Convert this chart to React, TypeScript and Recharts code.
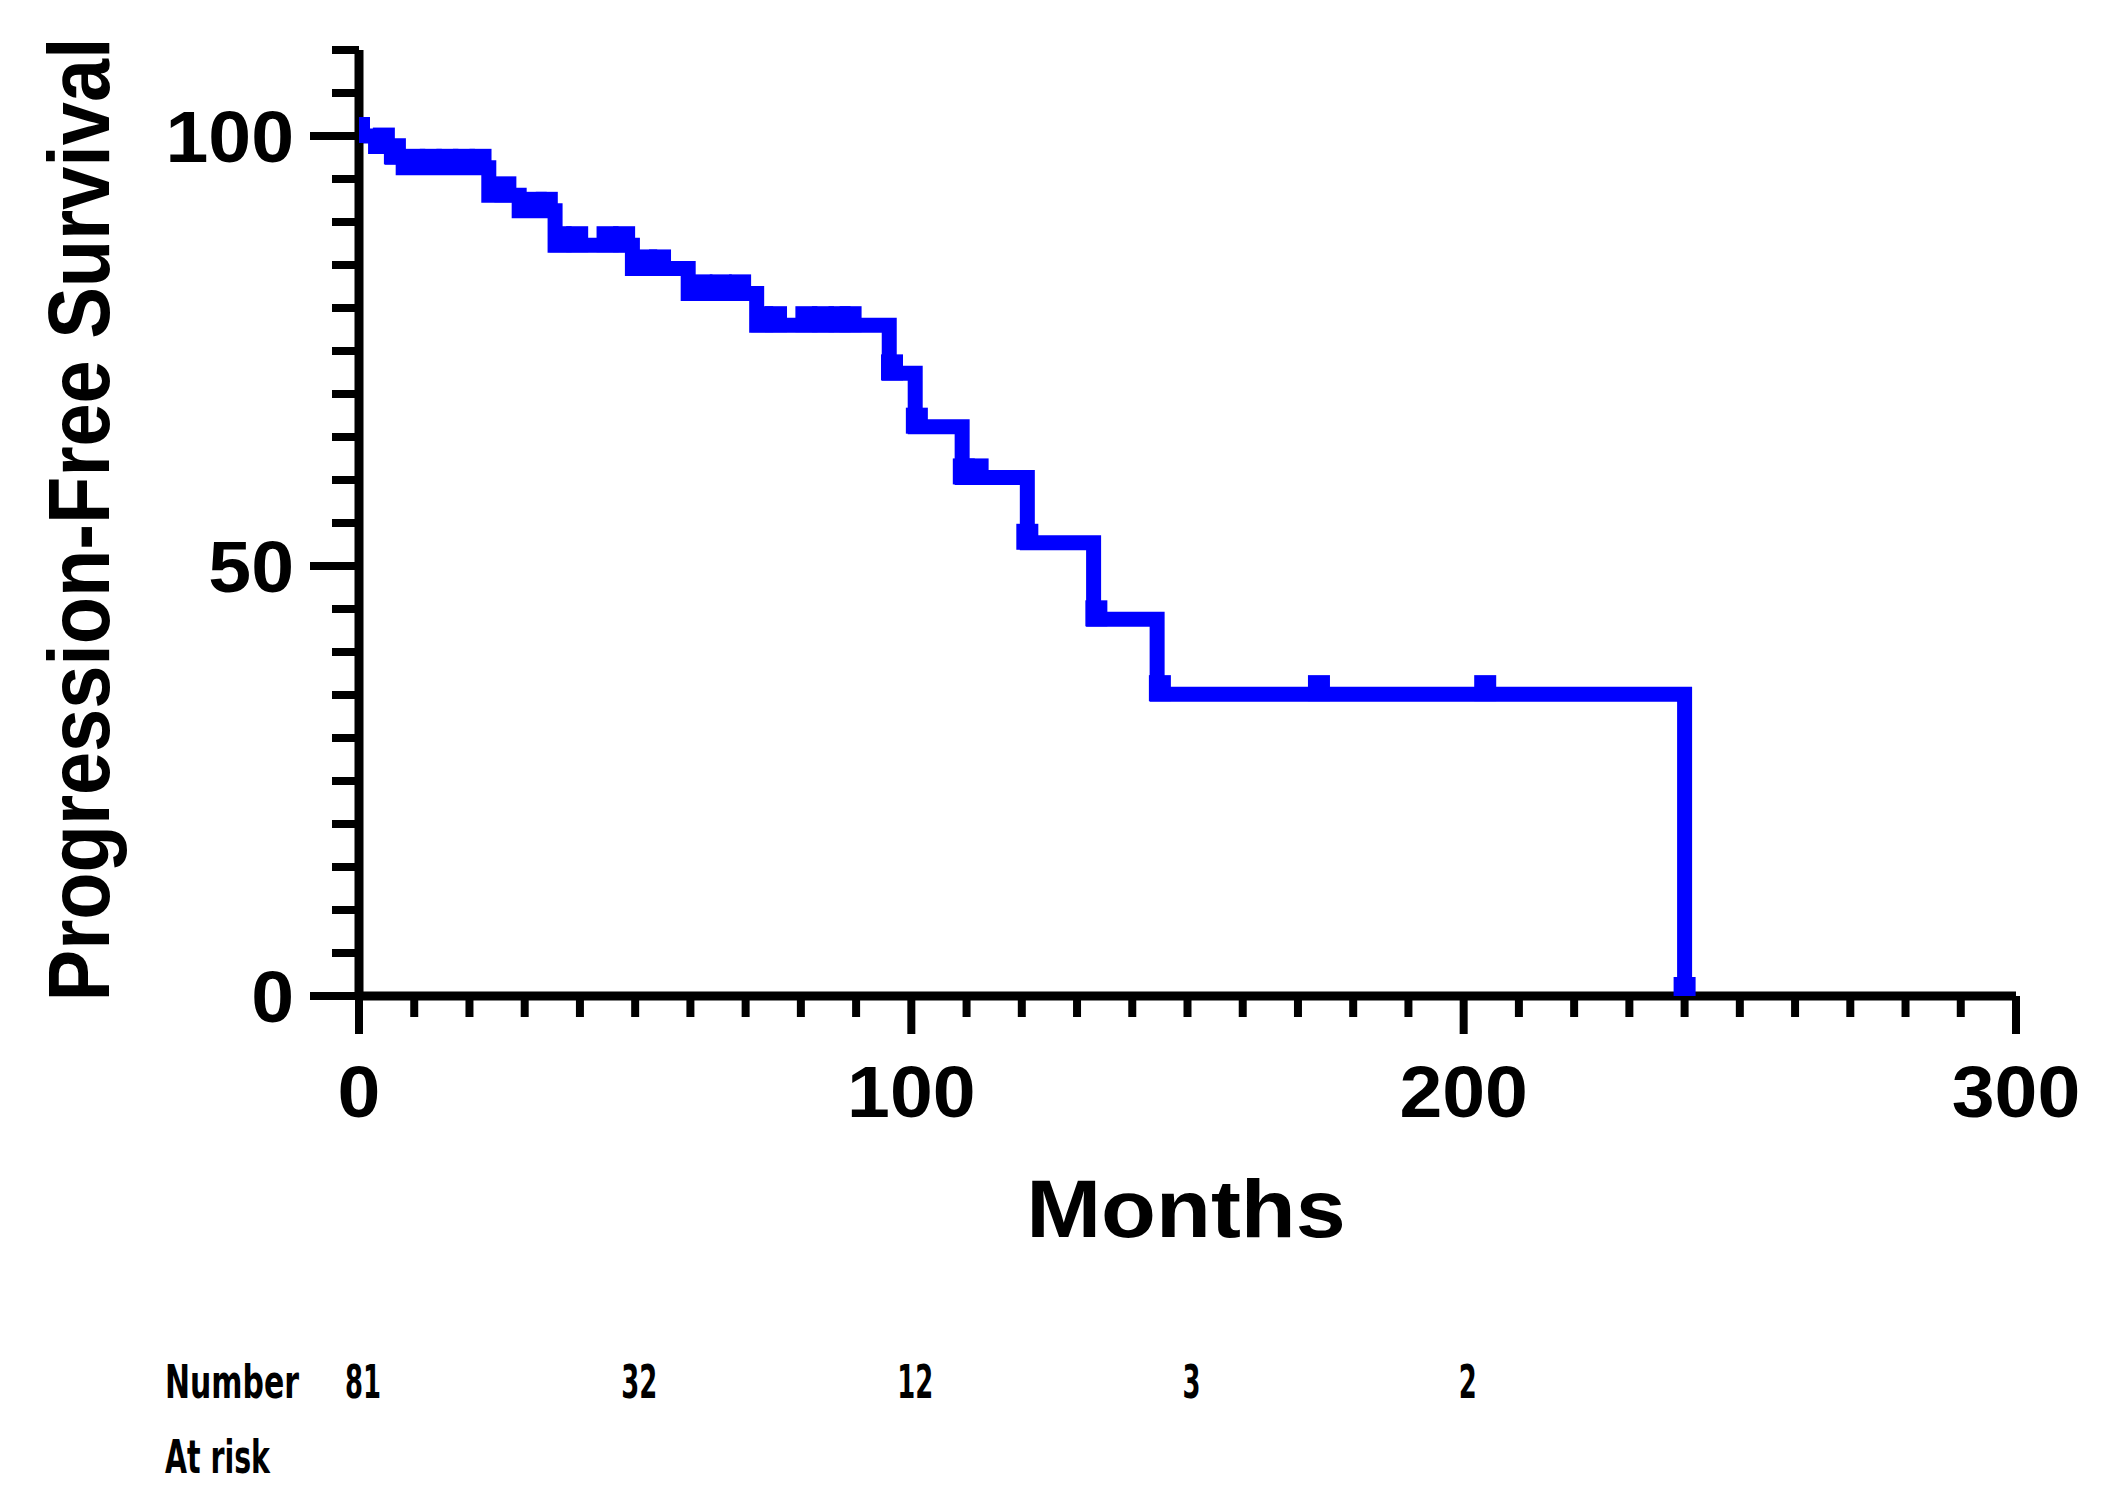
import React from 'react';
import { ComposedChart, Line, Scatter, XAxis, YAxis } from 'recharts';

// Kaplan-Meier steps (months, % progression-free)
const stepMonths = [0, 3, 6, 8, 23.5, 29, 35.5, 49.5, 59.6, 72, 96, 100.7, 109.2, 121, 133, 144.5, 240];
const stepSurvival = [100, 98.77, 97.53, 96.3, 93.1, 91.3, 87.3, 84.6, 81.7, 78.0, 72.4, 66.2, 60.3, 52.7, 43.8, 35.1, 0];

// Censor marks
const censorMonths = [0, 4.5, 6.5, 10, 13, 16, 19, 22, 26.5, 32, 34, 36.5, 39.5, 45, 48, 52, 54.5, 62, 65.5, 69, 73, 75.5, 81, 84, 87, 89, 96.5, 101, 109.5, 112, 121, 133.5, 145, 173.8, 203.9, 240];
const censorSurvival = [100, 98.77, 97.53, 96.3, 96.3, 96.3, 96.3, 96.3, 93.1, 91.3, 91.3, 87.3, 87.3, 87.3, 87.3, 84.6, 84.6, 81.7, 81.7, 81.7, 78.0, 78.0, 78.0, 78.0, 78.0, 78.0, 72.4, 66.2, 60.3, 60.3, 52.7, 43.8, 35.1, 35.1, 35.1, 0];

const xTicks = [0, 10, 20, 30, 40, 50, 60, 70, 80, 90, 100, 110, 120, 130, 140, 150, 160, 170, 180, 190, 200, 210, 220, 230, 240, 250, 260, 270, 280, 290, 300];
const xMajor = [0, 100, 200, 300];
const yTicks = [0, 5, 10, 15, 20, 25, 30, 35, 40, 45, 50, 55, 60, 65, 70, 75, 80, 85, 90, 95, 100, 105, 110];
const yMajor = [0, 50, 100];

const riskMonths = [0, 50, 100, 150, 200];
const riskCounts = [81, 32, 12, 3, 2];

const BLUE = '#0000FF';
const BOLD_FONT = '"Liberation Sans", Arial, Helvetica, sans-serif';
const NARROW_FONT = '"Liberation Sans Narrow", "DejaVu Sans Condensed", "Liberation Sans", sans-serif';

const stepData = stepMonths.map((t, i) => ({ t, s: stepSurvival[i] }));
const censorData = censorMonths.map((t, i) => ({ t, s: censorSurvival[i] }));

const DIGIT_W = 18;

const XTick = (props: any) => {
  const { x, y, payload } = props;
  const v = payload.value;
  const major = xMajor.includes(v);
  const len = major ? 38 : 21;
  const ri = riskMonths.indexOf(v);
  const label = ri >= 0 ? String(riskCounts[ri]) : '';
  const lw = label.length * DIGIT_W;
  return (
    <g>
      <line x1={x} x2={x} y1={y} y2={y + len} stroke="#000" strokeWidth={8} />
      {major && (
        <text
          transform={`translate(${x},${y + 121}) scale(1.07,1)`}
          textAnchor="middle"
          fontFamily={BOLD_FONT}
          fontWeight="bold"
          fontSize={72}
          fill="#000"
        >
          {v}
        </text>
      )}
      {ri >= 0 && (
        <text
          x={x + 4 - lw / 2}
          y={y + 402}
          textLength={lw}
          lengthAdjust="spacingAndGlyphs"
          fontFamily={NARROW_FONT}
          fontWeight="bold"
          fontSize={46}
          fill="#000"
        >
          {label}
        </text>
      )}
    </g>
  );
};

const YTick = (props: any) => {
  const { x, y, payload } = props;
  const v = payload.value;
  const major = yMajor.includes(v);
  const len = major ? 49 : 27;
  return (
    <g>
      <line x1={x} x2={x - len} y1={y} y2={y} stroke="#000" strokeWidth={8} />
      {major && (
        <text
          transform={`translate(${x - 65},${y + 26}) scale(1.07,1)`}
          textAnchor="end"
          fontFamily={BOLD_FONT}
          fontWeight="bold"
          fontSize={72}
          fill="#000"
        >
          {v}
        </text>
      )}
    </g>
  );
};

const CensorMark = (props: any) => {
  const { cx, cy } = props;
  if (cx == null || cy == null) return null;
  return <rect x={cx - 11} y={cy - 19} width={22} height={26} fill={BLUE} />;
};

export default function App() {
  const W = 2108;
  const H = 1509;
  return (
    <div style={{ position: 'absolute', left: 0, top: 0, width: W, height: H, background: '#fff' }}>
      <ComposedChart
        width={W}
        height={H}
        margin={{ top: 50, right: 92, bottom: 512, left: 358 }}
      >
        <XAxis
          dataKey="t"
          type="number"
          domain={[0, 300]}
          ticks={xTicks}
          interval={0}
          height={1}
          tickSize={0}
          tickMargin={0}
          tickLine={false}
          axisLine={{ stroke: '#000', strokeWidth: 9 }}
          tick={<XTick />}
          allowDataOverflow
        />
        <YAxis
          dataKey="s"
          type="number"
          domain={[0, 110]}
          ticks={yTicks}
          interval={0}
          width={1}
          tickSize={0}
          tickMargin={0}
          tickLine={false}
          axisLine={{ stroke: '#000', strokeWidth: 9 }}
          tick={<YTick />}
          allowDataOverflow
        />
        <Line
          data={stepData}
          dataKey="s"
          type="stepAfter"
          stroke={BLUE}
          strokeWidth={15}
          strokeLinejoin="miter"
          strokeLinecap="butt"
          dot={false}
          activeDot={false}
          isAnimationActive={false}
        />
        <Scatter
          data={censorData}
          dataKey="s"
          fill={BLUE}
          shape={<CensorMark />}
          isAnimationActive={false}
        />
      </ComposedChart>
      <svg
        width={W}
        height={H}
        style={{ position: 'absolute', left: 0, top: 0, pointerEvents: 'none' }}
      >
        <text
          transform="translate(109,519.5) rotate(-90) scale(0.88,1)"
          textAnchor="middle"
          fontFamily={BOLD_FONT}
          fontWeight="bold"
          fontSize={88}
          fill="#000"
        >
          Progression-Free Survival
        </text>
        <text
          transform="translate(1186,1237) scale(1.11,1)"
          textAnchor="middle"
          fontFamily={BOLD_FONT}
          fontWeight="bold"
          fontSize={81}
          fill="#000"
        >
          Months
        </text>
        <text
          x={165}
          y={1398}
          textLength={134}
          lengthAdjust="spacingAndGlyphs"
          fontFamily={NARROW_FONT}
          fontWeight="bold"
          fontSize={46}
          fill="#000"
        >
          Number
        </text>
        <text
          x={165}
          y={1473}
          textLength={105}
          lengthAdjust="spacingAndGlyphs"
          fontFamily={NARROW_FONT}
          fontWeight="bold"
          fontSize={46}
          fill="#000"
        >
          At risk
        </text>
      </svg>
    </div>
  );
}
